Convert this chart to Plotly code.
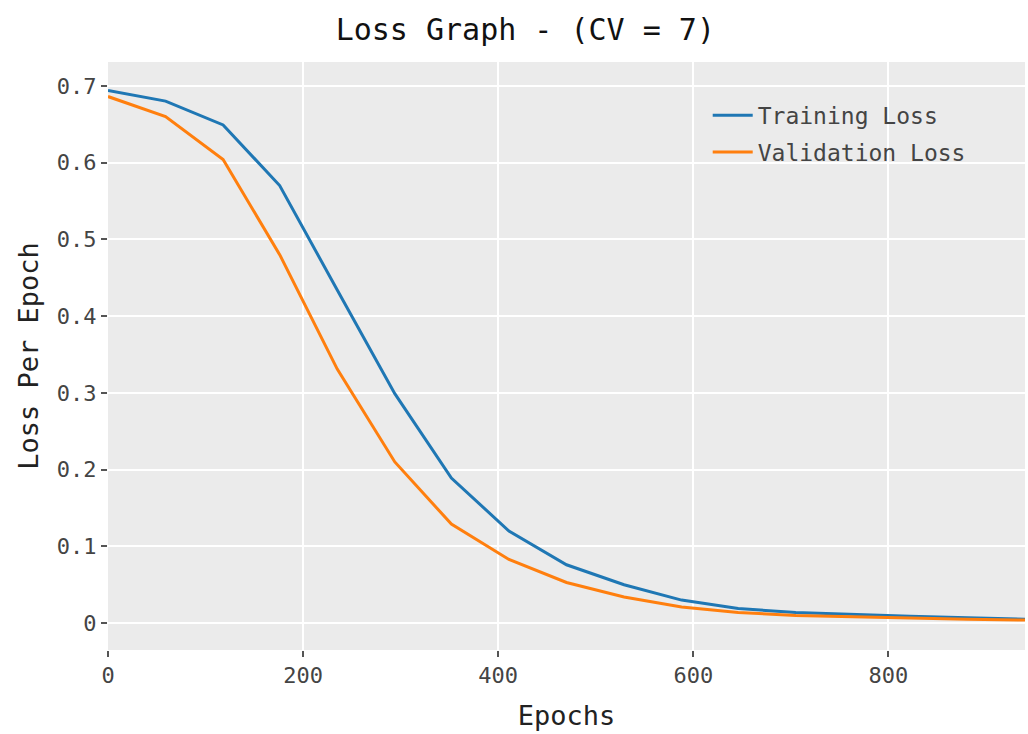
import plotly.graph_objects as go

# Loss recorded per logged epoch for cross-validation fold 7
epochs = [0, 59, 118, 176, 235, 294, 352, 411, 470, 529, 588, 646, 705, 764, 822, 881, 940]
training_loss = [0.694, 0.680, 0.649, 0.570, 0.434, 0.299, 0.189, 0.120, 0.076, 0.050,
                 0.030, 0.019, 0.014, 0.011, 0.009, 0.007, 0.005]
validation_loss = [0.686, 0.660, 0.604, 0.480, 0.331, 0.210, 0.129, 0.083, 0.053, 0.034,
                   0.021, 0.014, 0.010, 0.008, 0.007, 0.005, 0.004]

x_ticks = [0, 200, 400, 600, 800]
y_ticks = [0, 0.1, 0.2, 0.3, 0.4, 0.5, 0.6, 0.7]
y_tick_text = ["0", "0.1", "0.2", "0.3", "0.4", "0.5", "0.6", "0.7"]

mono = "DejaVu Sans Mono, Liberation Mono, monospace"

fig = go.Figure()
fig.add_trace(go.Scatter(x=epochs, y=training_loss, mode="lines", name="Training Loss",
                         legendgroup="train", line=dict(color="#1f77b4", width=3)))
fig.add_trace(go.Scatter(x=epochs, y=validation_loss, mode="lines", name="Validation Loss",
                         legendgroup="val", line=dict(color="#ff7f0e", width=3)))

fig.update_layout(
    width=1028, height=734,
    margin=dict(l=108, r=3, t=62, b=84),
    paper_bgcolor="white",
    plot_bgcolor="#EBEBEB",
    font=dict(family=mono, color="#333333", size=21),
    title=dict(text="Loss Graph - (CV = 7)", x=0.511, xanchor="center", y=0.96, yanchor="middle",
               font=dict(family=mono, size=30, color="#111111")),
    legend=dict(x=0.654, y=0.946, xanchor="left", yanchor="top", bgcolor="rgba(0,0,0,0)",
                font=dict(family=mono, size=23, color="#444444"), tracegroupgap=4,
                itemwidth=40),
    showlegend=True,
)
fig.update_xaxes(
    range=[0, 940], tickvals=x_ticks, showgrid=True, gridcolor="white", gridwidth=1.5,
    zeroline=False, ticks="outside", ticklen=6, tickcolor="#555555", tickwidth=1.5,
    tickfont=dict(size=22, color="#444444"),
    title=dict(text="Epochs", font=dict(size=27, color="#222222"), standoff=18),
)
fig.update_yaxes(
    range=[-0.035, 0.731], tickvals=y_ticks, ticktext=y_tick_text, showgrid=True,
    gridcolor="white", gridwidth=1.5, zeroline=False, ticks="outside", ticklen=6,
    tickcolor="#555555", tickwidth=1.5, tickfont=dict(size=22, color="#444444"),
    title=dict(text="Loss Per Epoch", font=dict(size=27, color="#222222"), standoff=10),
)

fig.write_html("out.html")
